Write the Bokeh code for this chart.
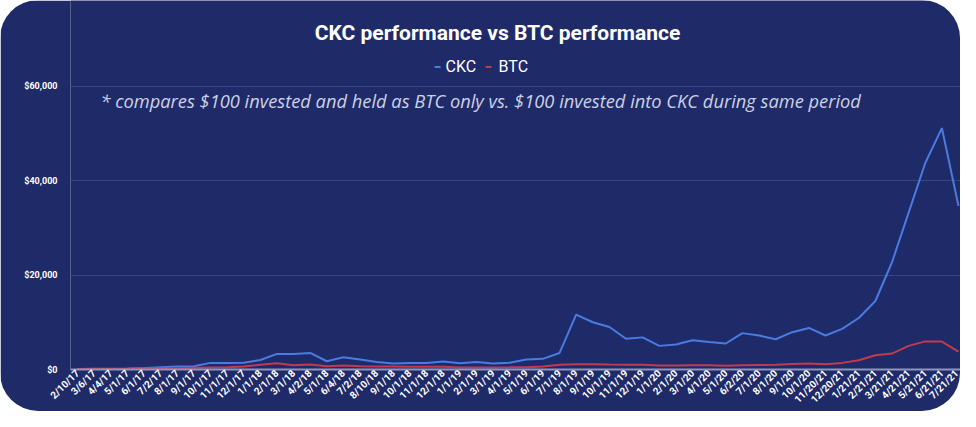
from bokeh.plotting import figure
from bokeh.models import Range1d, FixedTicker, Label, NumeralTickFormatter
from bokeh.embed import file_html
from bokeh.resources import INLINE
import math

dates = ["2/10/17", "3/6/17", "4/4/17", "5/1/17", "6/1/17", "7/2/17", "8/1/17", "9/1/17",
         "10/1/17", "11/1/17", "12/1/17", "1/1/18", "2/1/18", "3/1/18", "4/2/18", "5/1/18",
         "6/4/18", "7/2/18", "8/10/18", "9/1/18", "10/1/18", "11/1/18", "12/1/18", "1/1/19",
         "2/1/19", "3/1/19", "4/1/19", "5/1/19", "6/1/19", "7/1/19", "8/1/19", "9/1/19",
         "10/1/19", "11/1/19", "12/1/19", "1/1/20", "2/1/20", "3/1/20", "4/1/20", "5/1/20",
         "6/2/20", "7/1/20", "8/1/20", "9/1/20", "10/1/20", "11/20/21", "12/20/21", "1/21/21",
         "2/21/21", "3/21/21", "4/21/21", "5/21/21", "6/21/21", "7/21/21"]

ckc = [100, 150, 150, 200, 300, 500, 650, 700, 1400, 1400, 1450, 2000, 3300, 3300, 3500, 1750,
       2600, 2100, 1600, 1250, 1400, 1400, 1700, 1300, 1600, 1250, 1450, 2100, 2250, 3500,
       11600, 10000, 9000, 6500, 6800, 5000, 5300, 6200, 5800, 5500, 7700, 7200, 6400, 7900,
       8800, 7200, 8600, 10900, 14500, 22700, 33200, 43700, 51100, 34600]

btc = [100, 110, 120, 150, 200, 230, 260, 350, 420, 490, 630, 980, 1330, 910, 1050, 700,
       840, 700, 630, 630, 600, 560, 560, 420, 420, 420, 450, 490, 630, 980, 1120, 1120,
       1050, 1000, 980, 840, 840, 910, 900, 770, 880, 950, 980, 1190, 1260, 1120, 1400, 1960,
       3000, 3370, 5000, 5950, 5900, 3800]

y_ticks = [0, 20000, 40000, 60000]

title_text = "CKC performance vs BTC performance"
note_text = "* compares $100 invested and held as BTC only vs. $100 invested into CKC during same period"

NAVY = "#1f2a68"
BLUE = "#4a7be0"
RED = "#c23a50"

xs = list(range(len(dates)))

p = figure(width=960, height=411, output_backend="svg", toolbar_location=None,
           x_range=Range1d(-0.42, 53.12), y_range=Range1d(0, 78100),
           min_border_left=70, min_border_right=0, min_border_top=0, min_border_bottom=40)
p.styles = {"border-radius": "38px", "overflow": "hidden"}
p.background_fill_color = NAVY
p.border_fill_color = NAVY
p.outline_line_color = None

p.line(xs, ckc, line_color=BLUE, line_width=2)
p.line(xs, btc, line_color=RED, line_width=2)

# axes
p.xaxis.ticker = FixedTicker(ticks=xs)
p.xaxis.major_label_overrides = {i: d for i, d in enumerate(dates)}
p.xaxis.major_label_orientation = math.pi / 4
p.xaxis.major_label_text_color = "white"
p.xaxis.major_label_text_font = "Roboto"
p.xaxis.major_label_text_font_style = "bold"
p.xaxis.major_label_text_font_size = "10px"
p.xaxis.major_label_standoff = 2
p.xaxis.major_tick_line_color = None
p.xaxis.major_tick_out = 0
p.xaxis.major_tick_in = 0
p.xaxis.minor_tick_line_color = None
p.xaxis.minor_tick_out = 0
p.xaxis.axis_line_color = "#8e96c0"
p.xaxis.axis_line_width = 2

p.yaxis.ticker = FixedTicker(ticks=y_ticks)
p.yaxis.formatter = NumeralTickFormatter(format="$0,0")
p.yaxis.major_label_text_color = "white"
p.yaxis.major_label_text_font = "Roboto"
p.yaxis.major_label_text_font_style = "bold"
p.yaxis.major_label_text_font_size = "9px"
p.yaxis.major_label_standoff = 7
p.yaxis.major_tick_line_color = None
p.yaxis.minor_tick_line_color = None
p.yaxis.axis_line_color = None

p.xgrid.grid_line_color = None
p.ygrid.grid_line_color = "#3a4580"
p.ygrid.grid_line_width = 1

# title, legend, note (positioned in data space)
p.add_layout(Label(x=25.27, y=71160, text=title_text, text_align="center", text_baseline="middle",
                   text_color="white", text_font="Roboto", text_font_style="bold",
                   text_font_size="21px"))

p.segment(x0=[21.48, 24.55], y0=[64000, 64000], x1=[21.84, 24.91], y1=[64000, 64000],
          line_color=[BLUE, RED], line_width=2)
p.add_layout(Label(x=22.14, y=64200, text="CKC", text_align="left", text_baseline="middle",
                   text_color="white", text_font="Roboto", text_font_size="16px"))
p.add_layout(Label(x=25.33, y=64200, text="BTC", text_align="left", text_baseline="middle",
                   text_color="white", text_font="Roboto", text_font_size="16px"))

p.add_layout(Label(x=1.38, y=56840, text=note_text, text_align="left", text_baseline="middle",
                   text_color="#cdd1e3", text_font="Open Sans", text_font_style="italic",
                   text_font_size="18.3px"))

open("out.html", "w").write(file_html(p, INLINE))
